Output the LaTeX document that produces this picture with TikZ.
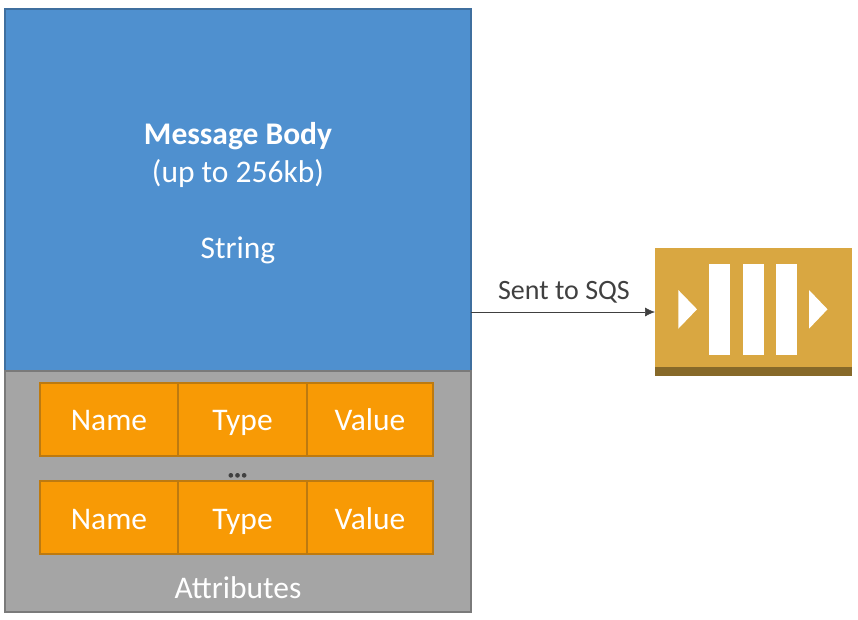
\documentclass[tikz,border=0pt]{standalone}
\usepackage{fontspec}
\setmainfont{Carlito}
\usetikzlibrary{arrows.meta}
\definecolor{bodyblue}{HTML}{4F90CF}
\definecolor{bodyline}{HTML}{3F6F9F}
\definecolor{attrgray}{HTML}{A5A5A5}
\definecolor{attrline}{HTML}{7A7A7A}
\definecolor{cellorange}{HTML}{F89A05}
\definecolor{cellline}{HTML}{BD7A10}
\definecolor{sqsgold}{HTML}{D9A741}
\definecolor{sqsdark}{HTML}{876929}
\definecolor{inktext}{HTML}{404040}
\tikzset{
  x=1pt,y=-1pt,
  panel/.style={draw,line width=1.1pt,inner sep=0pt,outer sep=0pt,anchor=north west},
  bodypanel/.style={panel,fill=bodyblue,draw=bodyline,minimum width=466pt,minimum height=362pt},
  attrpanel/.style={panel,fill=attrgray,draw=attrline,minimum width=466pt,minimum height=241pt},
  cell/.style={panel,fill=cellorange,draw=cellline,minimum height=73pt,text=white,text height=28pt,text depth=7pt,font=\fontsize{31.5}{31.5}\selectfont},
  lowcell/.style={cell,text height=30pt},
  whitetext/.style={text=white,inner sep=0pt,anchor=base},
  bar/.style={fill=white,draw=none,inner sep=0pt,outer sep=0pt,anchor=north west,minimum width=21pt,minimum height=90.5pt},
  flow/.style={draw=inktext,line width=0.6pt,-{Latex[length=10pt,width=9pt]}}
}
\newfontfamily\dotsfont[FakeBold=3]{Carlito Bold}
\begin{document}
\begin{tikzpicture}
\useasboundingbox (0,0) rectangle (858,619);
\node[bodypanel] (body) at (5,9) {};
\node[attrpanel] (attr) at (5,371) {};
\node[whitetext,font=\bfseries\fontsize{31.5}{31.5}\selectfont] (t1) at (238,144) {Message Body};
\node[whitetext,font=\fontsize{31.5}{31.5}\selectfont] (t2) at (238,182) {(up to 256kb)};
\node[whitetext,font=\fontsize{31.5}{31.5}\selectfont] (t3) at (238,258) {String};
\node[cell,minimum width=138pt] (n1) at (40,383) {Name};
\node[cell,minimum width=129pt] (y1) at (178,383) {Type};
\node[cell,minimum width=126pt] (v1) at (307,383) {Value};
\node[lowcell,minimum width=138pt] (n2) at (40,481) {Name};
\node[lowcell,minimum width=129pt] (y2) at (178,481) {Type};
\node[lowcell,minimum width=126pt] (v2) at (307,481) {Value};
\node[text=inktext,inner sep=0pt,anchor=base,font=\dotsfont\fontsize{25}{25}\selectfont] (dots) at (237.5,477) {...};
\node[whitetext,font=\fontsize{31.5}{31.5}\selectfont] (attrlabel) at (238,598) {Attributes};
\node[fill=sqsgold,inner sep=0pt,outer sep=0pt,anchor=north west,minimum width=197pt,minimum height=128pt] (sqs) at (655,248) {};
\node[fill=sqsdark,inner sep=0pt,outer sep=0pt,anchor=north west,minimum width=197pt,minimum height=9pt] (sqsband) at (655,367) {};
\node[bar] (b1) at (709,264) {};
\node[bar] (b2) at (742.5,264) {};
\node[bar] (b3) at (776,264) {};
\fill[white] (678.3,290) -- (697,309.3) -- (678.3,328.7) -- cycle;
\fill[white] (809,290) -- (827.5,309.3) -- (809,328.7) -- cycle;
\coordinate (src) at (471,312);
\coordinate (dst) at (655,312);
\draw[flow] (src) -- node[text=inktext,inner sep=0pt,anchor=base,font=\fontsize{28}{28}\selectfont,pos=0.5,yshift=13pt,xshift=1pt] (sentlabel) {Sent to SQS} (dst);
\end{tikzpicture}
\end{document}
